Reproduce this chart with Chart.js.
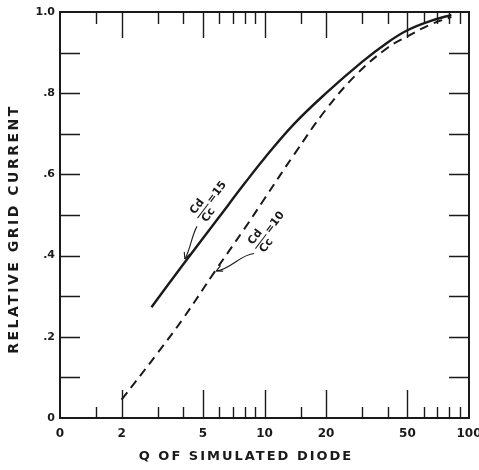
<!DOCTYPE html>
<html>
<head>
<meta charset="utf-8">
<script src="https://cdn.jsdelivr.net/npm/chart.js@4"></script>
<style>
  html, body { margin: 0; padding: 0; background: #fff; }
  canvas { display: block; }
</style>
</head>
<body>
<canvas id="chart" width="479" height="470"></canvas>
<script>
// Dane
const xTickValues = [1, 1.5, 2, 3, 4, 5, 6, 7, 8, 9, 10, 15, 20, 30, 40, 50, 60, 70, 80, 90, 100];
const xMajorTicks = [2, 5, 10, 20, 50];
const xTickLabels = { 1: '0', 2: '2', 5: '5', 10: '10', 20: '20', 50: '50', 100: '100' };
const yTickValues = [0, 0.1, 0.2, 0.3, 0.4, 0.5, 0.6, 0.7, 0.8, 0.9, 1];
const yTickLabels = ['0', '', '.2', '', '.4', '', '.6', '', '.8', '', '1.0'];

// Cd/Cc = 15 (linia ciągła)
const q15 = [2.8, 4, 6, 8, 10, 14, 20, 30, 40, 50, 65, 82];
const current15 = [0.273, 0.378, 0.495, 0.578, 0.64, 0.725, 0.8, 0.877, 0.925, 0.955, 0.978, 0.993];

// Cd/Cc = 10 (linia przerywana)
const q10 = [2, 3, 4, 5.7, 8, 10, 14, 20, 28, 40, 50, 64, 82];
const current10 = [0.045, 0.16, 0.245, 0.36, 0.467, 0.54, 0.65, 0.76, 0.845, 0.912, 0.94, 0.968, 0.988];

const xTitle = 'Q OF SIMULATED DIODE';
const yTitle = 'RELATIVE GRID CURRENT';

const ink = '#1a1a1a';
const font = '"DejaVu Sans", sans-serif';

// opisy krzywych (pozycje w jednostkach danych)
const notes = [
  { num: 'Cd', den: 'Cc', rhs: '=15', at: [5.0, 0.51], from: [4.68, 0.472], to: [4.08, 0.392], wave: 2 },
  { num: 'Cd', den: 'Cc', rhs: '=10', at: [9.6, 0.435], from: [8.9, 0.405], to: [5.8, 0.362], wave: 5 }
];

function toPoints(xs, ys) {
  return xs.map((x, i) => ({ x, y: ys[i] }));
}

// ramka i kreski podziałki skierowane do środka
const frameTicks = {
  id: 'frameTicks',
  beforeDatasetsDraw(chart) {
    const { ctx, chartArea: a, scales: { x, y } } = chart;
    ctx.save();
    ctx.strokeStyle = ink;
    ctx.lineWidth = 2;
    ctx.strokeRect(a.left, a.top, a.right - a.left, a.bottom - a.top);
    ctx.lineWidth = 1.4;
    ctx.beginPath();
    xTickValues.forEach(v => {
      if (v <= 1 || v >= 100) return;
      const px = Math.round(x.getPixelForValue(v)) + 0.5;
      const major = xMajorTicks.includes(v);
      ctx.moveTo(px, a.bottom);
      ctx.lineTo(px, a.bottom - (major ? 28 : 11));
      ctx.moveTo(px, a.top);
      ctx.lineTo(px, a.top + (major ? 26 : 12));
    });
    yTickValues.forEach(v => {
      if (v <= 0 || v >= 1) return;
      const py = Math.round(y.getPixelForValue(v)) + 0.5;
      ctx.moveTo(a.left, py);
      ctx.lineTo(a.left + 20, py);
      ctx.moveTo(a.right, py);
      ctx.lineTo(a.right - 20, py);
    });
    ctx.stroke();
    ctx.restore();
  },
  afterDraw(chart) {
    const { ctx, scales: { x, y } } = chart;
    ctx.save();
    ctx.fillStyle = ink;
    ctx.strokeStyle = ink;
    ctx.textAlign = 'center';
    ctx.textBaseline = 'middle';

    // tytuły osi
    ctx.font = 'bold 13px ' + font;
    ctx.letterSpacing = '2px';
    ctx.fillText(xTitle, 246, 457);
    ctx.save();
    ctx.translate(14, 229);
    ctx.rotate(-Math.PI / 2);
    ctx.font = 'bold 14px ' + font;
    ctx.letterSpacing = '2.5px';
    ctx.fillText(yTitle, 0, 0);
    ctx.restore();
    ctx.letterSpacing = '0px';

    // opisy Cd/Cc ze strzałkami
    notes.forEach(n => {
      const cx = x.getPixelForValue(n.at[0]);
      const cy = y.getPixelForValue(n.at[1]);
      ctx.save();
      ctx.translate(cx, cy);
      ctx.rotate(-53 * Math.PI / 180);
      ctx.font = 'bold 11px ' + font;
      ctx.textAlign = 'center';
      ctx.fillText(n.num, 0, -7);
      ctx.fillText(n.den, 0, 7);
      ctx.lineWidth = 1;
      ctx.beginPath();
      ctx.moveTo(-9, 0);
      ctx.lineTo(9, 0);
      ctx.stroke();
      ctx.textAlign = 'left';
      ctx.fillText(n.rhs, 11, 0);
      ctx.restore();

      const sx = x.getPixelForValue(n.from[0]), sy = y.getPixelForValue(n.from[1]);
      const tx = x.getPixelForValue(n.to[0]), ty = y.getPixelForValue(n.to[1]);
      const dx = tx - sx, dy = ty - sy;
      const len = Math.hypot(dx, dy);
      const nx = -dy / len, ny = dx / len;
      ctx.lineWidth = 1.1;
      ctx.beginPath();
      ctx.moveTo(sx, sy);
      ctx.bezierCurveTo(
        sx + dx * 0.3 + nx * n.wave, sy + dy * 0.3 + ny * n.wave,
        sx + dx * 0.7 - nx * n.wave, sy + dy * 0.7 - ny * n.wave,
        tx, ty);
      ctx.stroke();
      // grot strzałki
      const ang = Math.atan2(dy, dx);
      ctx.beginPath();
      [-0.45, 0.45].forEach(d => {
        ctx.moveTo(tx, ty);
        ctx.lineTo(tx - 7 * Math.cos(ang + d), ty - 7 * Math.sin(ang + d));
      });
      ctx.stroke();
    });
    ctx.restore();
  }
};

new Chart(document.getElementById('chart'), {
  type: 'line',
  data: {
    datasets: [
      {
        label: 'Cd/Cc = 15',
        data: toPoints(q15, current15),
        borderColor: ink,
        borderWidth: 2.4,
        pointRadius: 0,
        tension: 0.4,
        fill: false
      },
      {
        label: 'Cd/Cc = 10',
        data: toPoints(q10, current10),
        borderColor: ink,
        borderWidth: 2,
        borderDash: [9, 6],
        pointRadius: 0,
        tension: 0.4,
        fill: false
      }
    ]
  },
  options: {
    responsive: false,
    animation: false,
    devicePixelRatio: 1,
    layout: { padding: { top: 12, right: 10, left: 0, bottom: 0 } },
    plugins: {
      legend: { display: false },
      tooltip: { enabled: false }
    },
    scales: {
      x: {
        type: 'logarithmic',
        min: 1,
        max: 100,
        grid: { display: false, drawTicks: false },
        border: { display: false },
        afterBuildTicks: s => { s.ticks = xTickValues.map(v => ({ value: v })); },
        afterFit: s => { s.height = 52; s.paddingLeft = 0; s.paddingRight = 0; },
        ticks: {
          autoSkip: false,
          maxRotation: 0,
          minRotation: 0,
          padding: 9,
          color: ink,
          font: { family: font, weight: 'bold', size: 12 },
          callback: v => xTickLabels[v] ?? ''
        }
      },
      y: {
        type: 'linear',
        min: 0,
        max: 1,
        grid: { display: false, drawTicks: false },
        border: { display: false },
        afterBuildTicks: s => { s.ticks = yTickValues.map(v => ({ value: v })); },
        afterFit: s => { s.width = 60; s.paddingTop = 0; s.paddingBottom = 0; },
        ticks: {
          autoSkip: false,
          padding: 5,
          color: ink,
          font: { family: font, weight: 'bold', size: 11 },
          callback: (v, i) => yTickLabels[i]
        }
      }
    }
  },
  plugins: [frameTicks]
});
</script>
</body>
</html>
